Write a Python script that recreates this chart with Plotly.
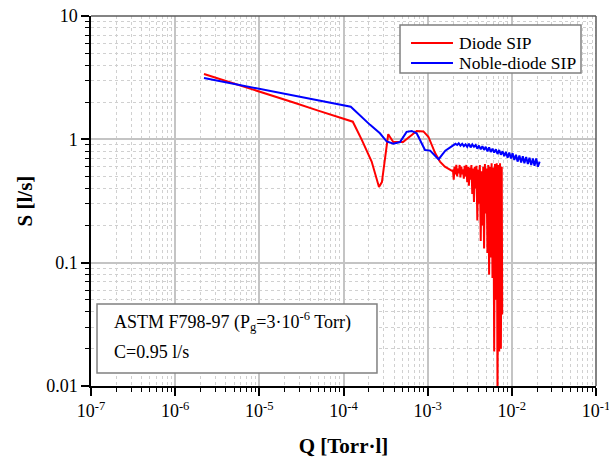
import plotly.graph_objects as go

# Pumping speed S [l/s] versus throughput Q [Torr·l]
diode_q = [2.2e-6, 4.0e-6, 1.0e-5, 2.5e-5, 5.0e-5, 1.29e-4, 1.65e-4, 2.16e-4, 2.64e-4, 2.86e-4,
           3.4e-4, 3.9e-4, 5.1e-4, 7.4e-4, 8.9e-4, 1.02e-3, 1.23e-3, 1.40e-3, 1.6e-3, 1.95e-3,
           2.00e-3, 2.04e-3, 2.09e-3, 2.14e-3, 2.19e-3, 2.24e-3, 2.29e-3, 2.34e-3, 2.40e-3, 2.45e-3,
           2.51e-3, 2.57e-3, 2.63e-3, 2.69e-3, 2.75e-3, 2.82e-3, 2.88e-3, 2.95e-3, 3.02e-3, 3.09e-3,
           3.16e-3, 3.24e-3, 3.31e-3, 3.39e-3, 3.47e-3, 3.55e-3, 3.63e-3, 3.72e-3, 3.80e-3, 3.89e-3,
           3.98e-3, 4.07e-3, 4.17e-3, 4.27e-3, 4.37e-3, 4.47e-3, 4.57e-3, 4.68e-3, 4.79e-3, 4.90e-3,
           5.01e-3, 5.13e-3, 5.25e-3, 5.37e-3, 5.50e-3, 5.62e-3, 5.75e-3, 5.89e-3, 6.03e-3, 6.17e-3,
           6.31e-3, 6.46e-3, 6.61e-3, 6.76e-3, 6.92e-3, 7.08e-3, 7.24e-3, 7.41e-3, 7.59e-3, 7.68e-3]
diode_s = [3.39, 2.98, 2.47, 2.0, 1.71, 1.39, 0.99, 0.66, 0.41, 0.45,
           1.1, 0.95, 0.95, 1.17, 1.16, 1.05, 0.77, 0.66, 0.60, 0.556,
           0.56, 0.47, 0.60, 0.52, 0.62, 0.50, 0.58, 0.53, 0.62, 0.49,
           0.60, 0.52, 0.57, 0.48, 0.61, 0.50, 0.62, 0.45, 0.60, 0.42,
           0.59, 0.47, 0.62, 0.36, 0.58, 0.31, 0.60, 0.40, 0.61, 0.22,
           0.57, 0.30, 0.62, 0.15, 0.55, 0.20, 0.60, 0.13, 0.63, 0.25,
           0.58, 0.12, 0.62, 0.08, 0.60, 0.11, 0.64, 0.075, 0.59, 0.019,
           0.63, 0.05, 0.64, 0.008, 0.62, 0.019, 0.64, 0.02, 0.60, 0.038]

noble_q = [2.2e-6, 1.0e-5, 3.0e-5, 1.22e-4, 2.07e-4, 2.71e-4, 3.26e-4, 3.91e-4, 4.69e-4, 5.62e-4,
           6.46e-4, 7.4e-4, 9.3e-4, 1.07e-3, 1.29e-3, 1.35e-3, 1.62e-3, 2.14e-3,
           2.24e-3, 2.34e-3, 2.45e-3, 2.57e-3, 2.69e-3, 2.82e-3, 2.95e-3, 3.09e-3, 3.24e-3, 3.39e-3,
           3.55e-3, 3.72e-3, 3.89e-3, 4.07e-3, 4.27e-3, 4.47e-3, 4.68e-3, 4.90e-3, 5.13e-3, 5.37e-3,
           5.62e-3, 5.89e-3, 6.17e-3, 6.46e-3, 6.76e-3, 7.08e-3, 7.41e-3, 7.76e-3, 8.13e-3, 8.51e-3,
           8.91e-3, 9.33e-3, 9.77e-3, 1.02e-2, 1.07e-2, 1.12e-2, 1.17e-2, 1.23e-2, 1.29e-2, 1.35e-2,
           1.41e-2, 1.48e-2, 1.55e-2, 1.62e-2, 1.70e-2, 1.78e-2, 1.86e-2, 1.95e-2, 2.04e-2, 2.14e-2]
noble_s = [3.14, 2.57, 2.22, 1.84, 1.31, 1.12, 0.96, 0.92, 0.95, 1.15,
           1.17, 1.12, 0.82, 0.81, 0.71, 0.69, 0.81, 0.92,
           0.90, 0.93, 0.89, 0.92, 0.88, 0.91, 0.87, 0.92, 0.86, 0.91,
           0.87, 0.90, 0.84, 0.89, 0.83, 0.88, 0.82, 0.87, 0.80, 0.86,
           0.79, 0.84, 0.78, 0.83, 0.76, 0.82, 0.75, 0.80, 0.73, 0.79,
           0.71, 0.78, 0.70, 0.77, 0.68, 0.75, 0.66, 0.74, 0.65, 0.73,
           0.64, 0.72, 0.63, 0.71, 0.62, 0.70, 0.61, 0.70, 0.60, 0.66]

series_names = ["Diode SIP", "Noble-diode SIP"]
series_colors = ["#ff0000", "#0000ff"]

x_tickvals = [1e-7, 1e-6, 1e-5, 1e-4, 1e-3, 1e-2, 1e-1]
x_ticktext = ["10<sup>-7</sup>", "10<sup>-6</sup>", "10<sup>-5</sup>", "10<sup>-4</sup>",
              "10<sup>-3</sup>", "10<sup>-2</sup>", "10<sup>-1</sup>"]
y_tickvals = [0.01, 0.1, 1, 10]
y_ticktext = ["0.01", "0.1", "1", "10"]

SERIF = "Liberation Serif, Times New Roman, serif"

x_minor = [m * d for d in x_tickvals[:-1] for m in range(2, 10)]
y_minor = [m * d for d in y_tickvals[:-1] for m in range(2, 10)]

fig = go.Figure()
fig.add_trace(go.Scatter(x=diode_q, y=diode_s, mode="lines", name=series_names[0],
                         line=dict(color=series_colors[0], width=2), showlegend=False))
fig.add_trace(go.Scatter(x=noble_q, y=noble_s, mode="lines", name=series_names[1],
                         line=dict(color=series_colors[1], width=2), showlegend=False))

axis_common = dict(
    type="log",
    automargin=False,
    ticklabeloverflow="allow",
    showline=True, linecolor="black", linewidth=1.5,
    ticks="outside", tickcolor="black", tickwidth=1.5, ticklen=8,
    showgrid=True, gridcolor="#c4c4c4", gridwidth=1.5,
    zeroline=False,
    tickfont=dict(family=SERIF, size=18, color="black"),
)

fig.update_xaxes(
    **axis_common,
    range=[-7, -1],
    tickvals=x_tickvals, ticktext=x_ticktext,
    minor=dict(tickvals=x_minor, ticks="outside", ticklen=4, tickcolor="black", tickwidth=1.2,
               showgrid=True, gridcolor="#d0d0d0", griddash="dot", gridwidth=1),
    title=dict(text="<b>Q [Torr·l]</b>", font=dict(family=SERIF, size=21, color="black"), standoff=18),
)
fig.update_yaxes(
    **axis_common,
    range=[-2, 1],
    tickvals=y_tickvals, ticktext=y_ticktext,
    minor=dict(tickvals=y_minor, ticks="outside", ticklen=4, tickcolor="black", tickwidth=1.2,
               showgrid=True, gridcolor="#d0d0d0", griddash="dot", gridwidth=1),
    title=dict(text="<b>S [l/s]</b>", font=dict(family=SERIF, size=21, color="black"), standoff=8),
)

# top and right frame
fig.add_shape(type="line", xref="paper", yref="paper", x0=0, x1=1, y0=1, y1=1,
              line=dict(color="#5a5a5a", width=1.5))
fig.add_shape(type="line", xref="paper", yref="paper", x0=1, x1=1, y0=0, y1=1,
              line=dict(color="#5a5a5a", width=1.5))

# legend box (upper right)
fig.add_shape(type="rect", xref="paper", yref="paper", x0=0.6119, x1=0.9703, y0=0.8459, y1=0.9757,
              line=dict(color="#808080", width=1.5), fillcolor="white", layer="above")
legend_rows_y = [0.9270, 0.8730]
for name, color, ly in zip(series_names, series_colors, legend_rows_y):
    fig.add_shape(type="line", xref="paper", yref="paper", x0=0.6337, x1=0.7168, y0=ly, y1=ly,
                  line=dict(color=color, width=2), layer="above")
    fig.add_annotation(xref="paper", yref="paper", x=0.7248, y=ly, xanchor="left", yanchor="middle",
                       text=name, showarrow=False, font=dict(family=SERIF, size=17.5, color="black"))

# test-condition box
fig.add_shape(type="rect", xref="paper", yref="paper", x0=0.0119, x1=0.5663, y0=0.0351, y1=0.2216,
              line=dict(color="#808080", width=1.5), fillcolor="white", layer="above")
fig.add_annotation(xref="paper", yref="paper", x=0.0416, y=0.1743, xanchor="left", yanchor="middle",
                   text="ASTM F798-97 (P<sub>g</sub>=3·10<sup>-6</sup> Torr)", showarrow=False,
                   font=dict(family=SERIF, size=18, color="black"))
fig.add_annotation(xref="paper", yref="paper", x=0.0416, y=0.0919, xanchor="left", yanchor="middle",
                   text="C=0.95 l/s", showarrow=False,
                   font=dict(family=SERIF, size=18, color="black"))

fig.update_layout(
    width=609, height=459,
    margin=dict(l=91, r=13, t=16, b=73),
    paper_bgcolor="white", plot_bgcolor="white",
)

fig.write_html("out.html")
